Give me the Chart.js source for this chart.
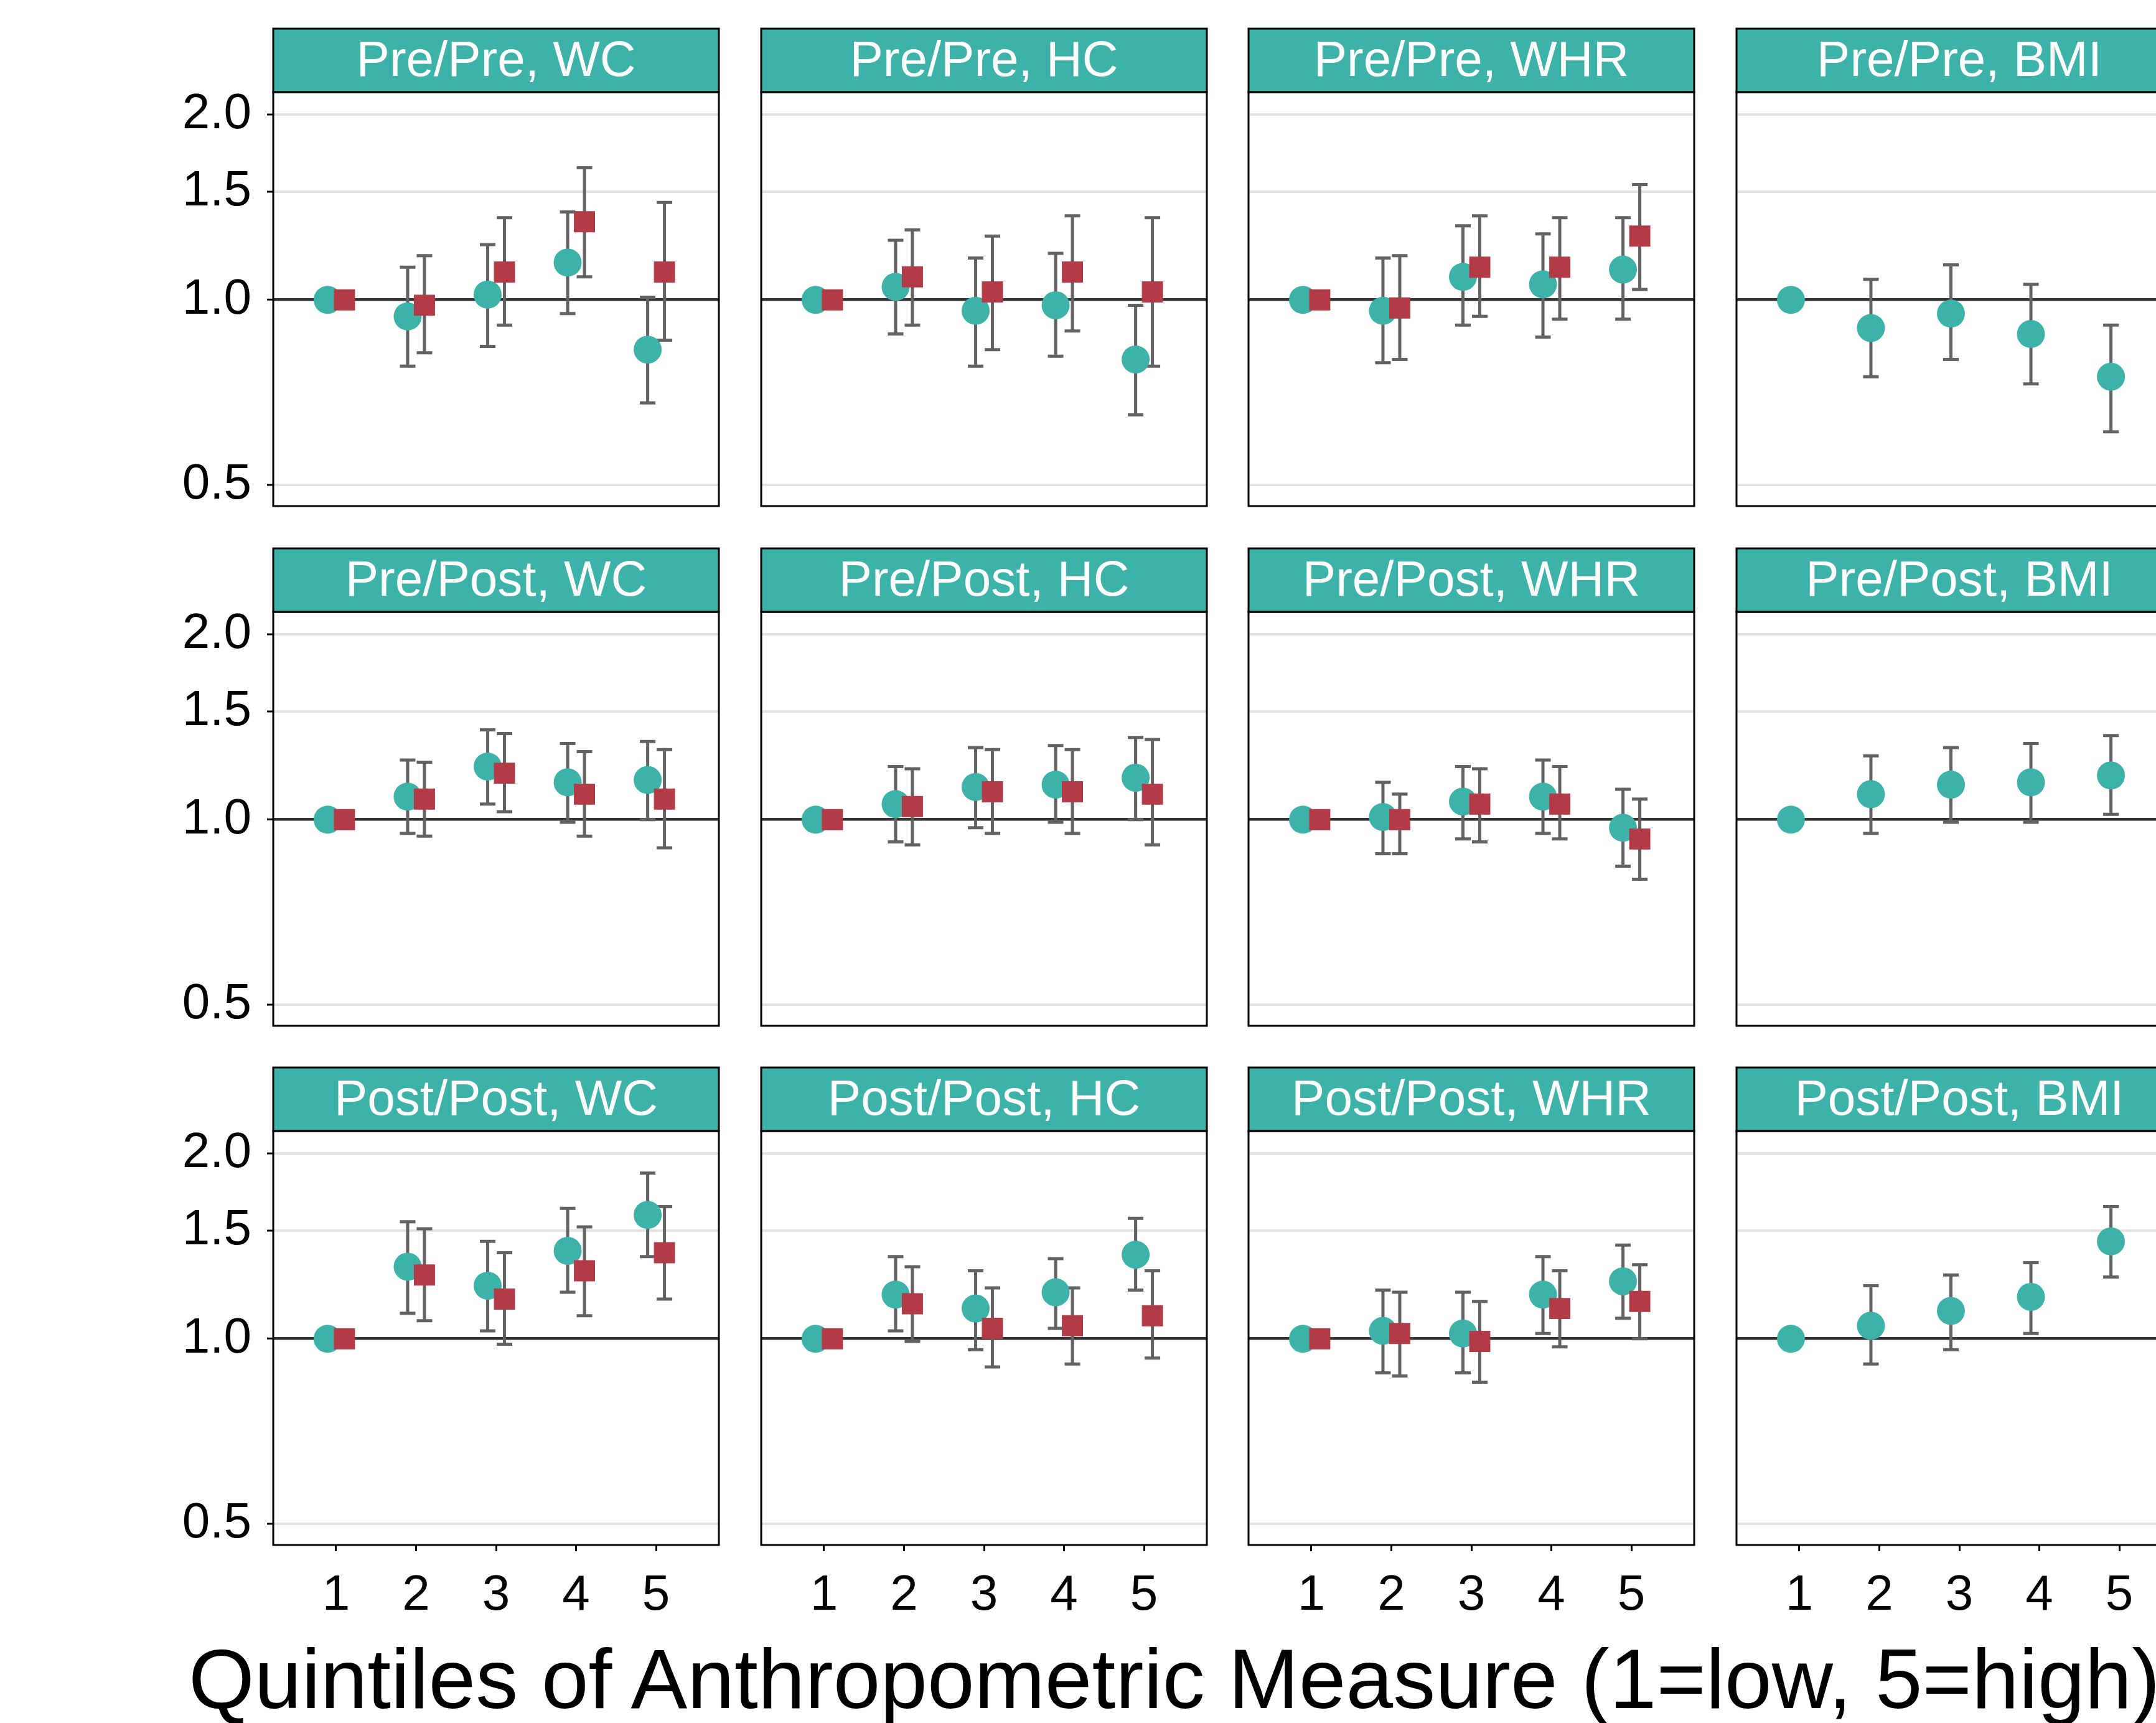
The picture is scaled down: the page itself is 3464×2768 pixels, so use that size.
<!DOCTYPE html>
<html>
<head>
<meta charset="utf-8">
<title>Quintiles of Anthropometric Measure</title>
<script src="https://cdn.jsdelivr.net/npm/chart.js@4.4.1/dist/chart.umd.min.js"></script>
<style>
  html, body { margin: 0; padding: 0; background: #fff; width: 3464px; height: 2768px; overflow: hidden; }
  canvas { position: absolute; }
  #xtitle {
    position: absolute; left: 303px; top: 2629px;
    font-family: 'Liberation Sans', Arial, sans-serif; font-size: 136px; line-height: 1;
    white-space: nowrap; color: #000;
  }
</style>
</head>
<body>
<div id="xtitle">Quintiles of Anthropometric Measure (1=low, 5=high)</div>
<script>
// --- Data ---
const periods = ['Pre/Pre', 'Pre/Post', 'Post/Post'];
const measures = ['WC', 'HC', 'WHR', 'BMI'];
const quintiles = [1, 2, 3, 4, 5];
const yTicks = [0.5, 1.0, 1.5, 2.0];

// circle series, one row per panel (Pre/Pre WC, HC, WHR, BMI, Pre/Post WC, ...)
const circleEst = [
  [1.00, 0.94, 1.02, 1.15, 0.83],
  [1.00, 1.05, 0.96, 0.98, 0.80],
  [1.00, 0.96, 1.09, 1.06, 1.12],
  [1.00, 0.90, 0.95, 0.88, 0.75],
  [1.00, 1.09, 1.22, 1.15, 1.16],
  [1.00, 1.06, 1.13, 1.14, 1.17],
  [1.00, 1.01, 1.07, 1.09, 0.97],
  [1.00, 1.10, 1.14, 1.15, 1.18],
  [1.00, 1.31, 1.22, 1.39, 1.59],
  [1.00, 1.18, 1.12, 1.19, 1.37],
  [1.00, 1.03, 1.02, 1.18, 1.24],
  [1.00, 1.05, 1.11, 1.17, 1.44]
];
const circleLow = [
  [null, 0.78, 0.84, 0.95, 0.68],
  [null, 0.88, 0.78, 0.81, 0.65],
  [null, 0.79, 0.91, 0.87, 0.93],
  [null, 0.75, 0.80, 0.73, 0.61],
  [null, 0.95, 1.06, 0.99, 1.00],
  [null, 0.92, 0.97, 0.99, 1.00],
  [null, 0.88, 0.93, 0.95, 0.84],
  [null, 0.95, 0.99, 0.99, 1.02],
  [null, 1.10, 1.03, 1.19, 1.36],
  [null, 1.03, 0.96, 1.04, 1.20],
  [null, 0.88, 0.88, 1.02, 1.08],
  [null, 0.91, 0.96, 1.02, 1.26]
];
const circleHigh = [
  [null, 1.13, 1.23, 1.39, 1.01],
  [null, 1.25, 1.17, 1.19, 0.98],
  [null, 1.17, 1.32, 1.28, 1.36],
  [null, 1.08, 1.14, 1.06, 0.91],
  [null, 1.25, 1.40, 1.33, 1.34],
  [null, 1.22, 1.31, 1.32, 1.36],
  [null, 1.15, 1.22, 1.25, 1.12],
  [null, 1.27, 1.31, 1.33, 1.37],
  [null, 1.55, 1.44, 1.63, 1.86],
  [null, 1.36, 1.29, 1.35, 1.57],
  [null, 1.20, 1.19, 1.36, 1.42],
  [null, 1.22, 1.27, 1.33, 1.64]
];

// square series (not shown for BMI)
const squareEst = [
  [1.00, 0.98, 1.11, 1.34, 1.11],
  [1.00, 1.09, 1.03, 1.11, 1.03],
  [1.00, 0.97, 1.13, 1.13, 1.27],
  null,
  [1.00, 1.08, 1.19, 1.10, 1.08],
  [1.00, 1.05, 1.11, 1.11, 1.10],
  [1.00, 1.00, 1.06, 1.06, 0.93],
  null,
  [1.00, 1.27, 1.16, 1.29, 1.38],
  [1.00, 1.14, 1.04, 1.05, 1.09],
  [1.00, 1.02, 0.99, 1.12, 1.15],
  null
];
const squareLow = [
  [null, 0.82, 0.91, 1.09, 0.86],
  [null, 0.91, 0.83, 0.89, 0.78],
  [null, 0.80, 0.94, 0.93, 1.04],
  null,
  [null, 0.94, 1.03, 0.94, 0.90],
  [null, 0.91, 0.95, 0.95, 0.91],
  [null, 0.88, 0.92, 0.93, 0.80],
  null,
  [null, 1.07, 0.98, 1.09, 1.16],
  [null, 0.99, 0.90, 0.91, 0.93],
  [null, 0.87, 0.85, 0.97, 1.00],
  null
];
const squareHigh = [
  [null, 1.18, 1.36, 1.64, 1.44],
  [null, 1.30, 1.27, 1.37, 1.36],
  [null, 1.18, 1.37, 1.36, 1.54],
  null,
  [null, 1.24, 1.38, 1.29, 1.30],
  [null, 1.21, 1.30, 1.30, 1.35],
  [null, 1.10, 1.21, 1.22, 1.08],
  null,
  [null, 1.51, 1.38, 1.52, 1.64],
  [null, 1.31, 1.21, 1.21, 1.29],
  [null, 1.19, 1.15, 1.29, 1.32],
  null
];

// --- Layout & style ---
const TEAL = '#3db2a8';
const RED = '#b33b47';
const BAR_COLOR = '#626262';
const FONT = "'Liberation Sans', Arial, sans-serif";
const COL_X0 = 439, COL_STEP = 783.5;
const ROW_Y0 = 148, ROW_STEP = 834.5;
const PLOT_W = 716, PLOT_H = 665;
const PAD_L = 200, PAD_T = 110, PAD_R = 10, PAD_B = 180;
const STRIP_H = 102;
const CAP = 12.5;
const DODGE = 0.105;

// error bars under the points, strip and frame on top
const decor = {
  id: 'decor',
  beforeDatasetsDraw(chart) {
    const { ctx, scales: { x, y } } = chart;
    ctx.save();
    ctx.strokeStyle = BAR_COLOR;
    ctx.lineWidth = 5;
    chart.data.datasets.forEach(ds => {
      ds.data.forEach(pt => {
        if (pt.lo == null) return;
        const px = x.getPixelForValue(pt.x);
        const yHi = y.getPixelForValue(pt.hi);
        const yLo = y.getPixelForValue(pt.lo);
        ctx.beginPath();
        ctx.moveTo(px, yHi); ctx.lineTo(px, yLo);
        ctx.moveTo(px - CAP, yHi); ctx.lineTo(px + CAP, yHi);
        ctx.moveTo(px - CAP, yLo); ctx.lineTo(px + CAP, yLo);
        ctx.stroke();
      });
    });
    ctx.restore();
  },
  afterDraw(chart, args, opts) {
    const { ctx, chartArea: a } = chart;
    ctx.save();
    ctx.lineWidth = 3;
    ctx.strokeStyle = '#000';
    ctx.fillStyle = TEAL;
    ctx.fillRect(a.left, a.top - STRIP_H, a.width, STRIP_H);
    ctx.strokeRect(a.left, a.top - STRIP_H, a.width, STRIP_H);
    ctx.strokeRect(a.left, a.top, a.width, a.height);
    ctx.fillStyle = '#fff';
    ctx.font = '80px ' + FONT;
    ctx.textAlign = 'center';
    ctx.textBaseline = 'middle';
    ctx.fillText(opts.title, (a.left + a.right) / 2, a.top - STRIP_H / 2 + 3);
    ctx.restore();
  }
};

function series(est, low, high, shift) {
  return est.map((v, i) => ({ x: quintiles[i] + shift, y: v, lo: low[i], hi: high[i] }));
}

function makePanel(r, c) {
  const p = r * 4 + c;
  const canvas = document.createElement('canvas');
  const w = PAD_L + PLOT_W + PAD_R, h = PAD_T + PLOT_H + PAD_B;
  canvas.width = w; canvas.height = h;
  canvas.style.width = w + 'px'; canvas.style.height = h + 'px';
  canvas.style.left = (COL_X0 + c * COL_STEP - PAD_L) + 'px';
  canvas.style.top = (ROW_Y0 + r * ROW_STEP - PAD_T) + 'px';
  document.body.appendChild(canvas);

  const datasets = [{
    label: 'circle',
    data: series(circleEst[p], circleLow[p], circleHigh[p], -DODGE),
    pointStyle: 'circle',
    pointRadius: 22.5,
    backgroundColor: TEAL,
    borderColor: TEAL,
    borderWidth: 0,
    order: 2
  }];
  if (squareEst[p]) {
    datasets.push({
      label: 'square',
      data: series(squareEst[p], squareLow[p], squareHigh[p], DODGE),
      pointStyle: 'rect',
      pointRadius: 24,
      backgroundColor: RED,
      borderColor: RED,
      borderWidth: 0,
      order: 1
    });
  }

  const tickFont = { family: FONT, size: 80 };
  new Chart(canvas, {
    type: 'scatter',
    data: { datasets },
    plugins: [decor],
    options: {
      responsive: false,
      devicePixelRatio: 1,
      animation: false,
      events: [],
      layout: { autoPadding: false, padding: { top: PAD_T, right: PAD_R, left: 0, bottom: 0 } },
      plugins: {
        legend: { display: false },
        tooltip: { enabled: false },
        decor: { title: periods[r] + ', ' + measures[c] }
      },
      scales: {
        x: {
          type: 'linear',
          min: 0.215, max: 5.785,
          afterBuildTicks: s => { s.ticks = quintiles.map(v => ({ value: v })); },
          afterFit: s => { s.height = PAD_B; },
          ticks: {
            display: r === 2, font: tickFont, color: '#000', padding: 24,
            maxRotation: 0, autoSkip: false, callback: v => String(v)
          },
          grid: {
            drawOnChartArea: false, drawTicks: r === 2,
            tickLength: 10, tickColor: '#000', tickWidth: 3
          },
          border: { display: false }
        },
        y: {
          type: 'logarithmic',
          min: 0.462, max: 2.177,
          afterBuildTicks: s => { s.ticks = yTicks.map(v => ({ value: v })); },
          afterFit: s => { s.width = PAD_L; },
          ticks: {
            display: c === 0, font: tickFont, color: '#000', padding: 25,
            callback: v => Number(v).toFixed(1)
          },
          grid: {
            color: ctx => (ctx.tick && ctx.tick.value === 1 ? '#333333' : '#e2e2e2'),
            lineWidth: ctx => (ctx.tick && ctx.tick.value === 1 ? 4.5 : 4),
            drawTicks: c === 0, tickLength: 10, tickColor: '#000', tickWidth: 3
          },
          border: { display: false }
        }
      }
    }
  });
}

for (let r = 0; r < periods.length; r++) {
  for (let c = 0; c < measures.length; c++) {
    makePanel(r, c);
  }
}
</script>
</body>
</html>
